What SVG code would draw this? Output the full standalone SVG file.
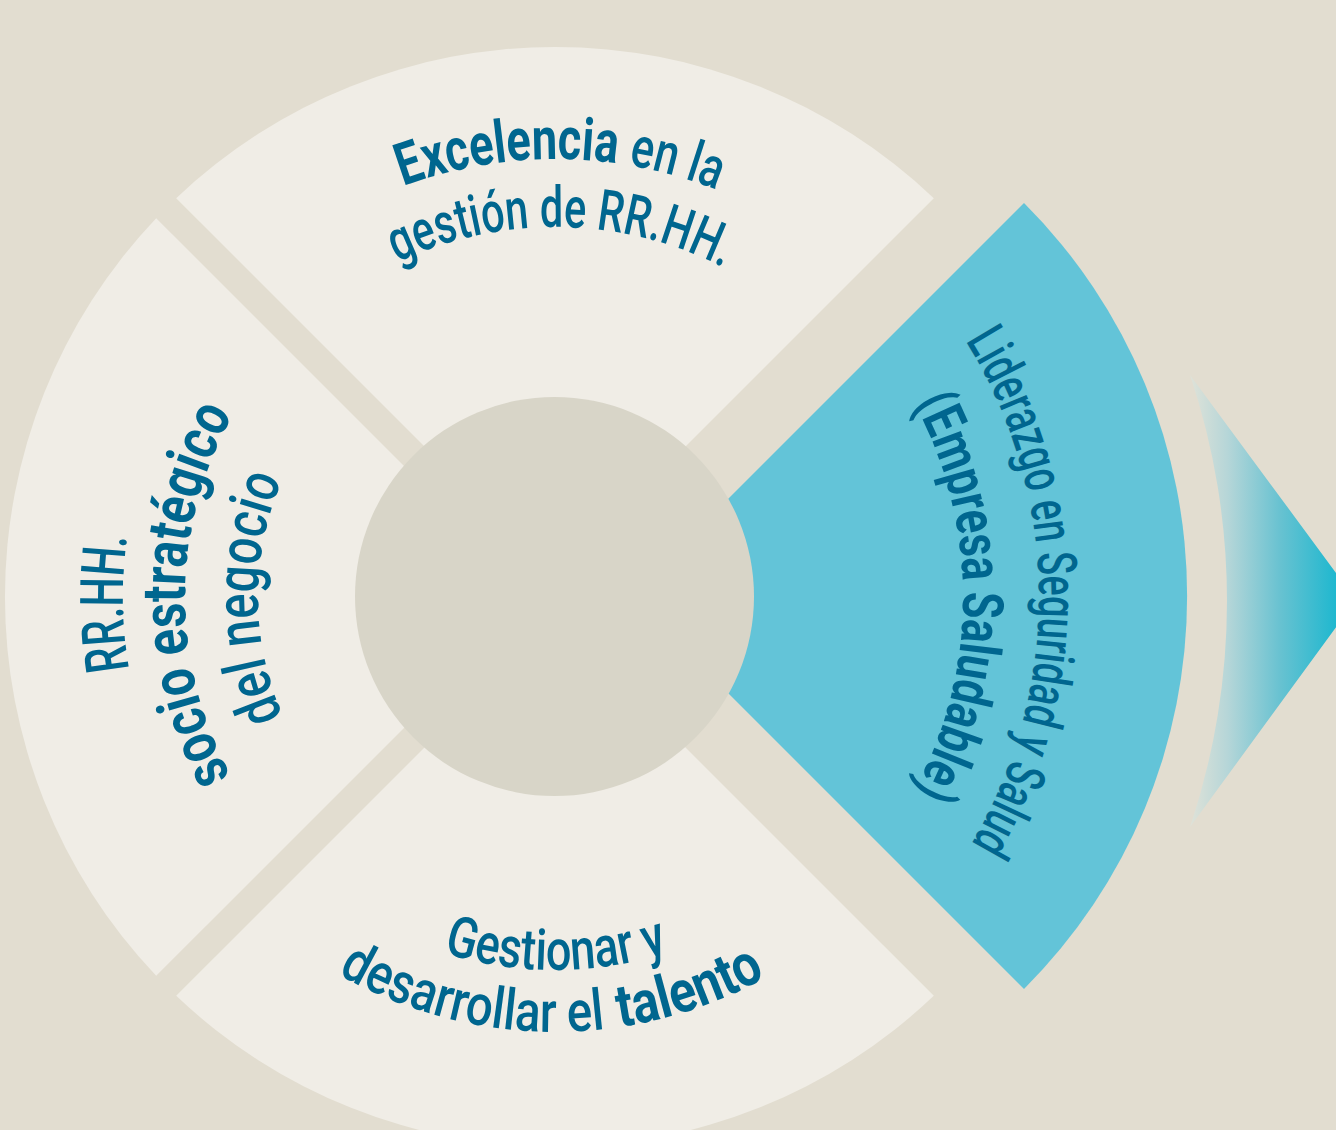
<svg xmlns="http://www.w3.org/2000/svg" xmlns:xlink="http://www.w3.org/1999/xlink" width="1336" height="1130" viewBox="0 0 1336 1130">
<style>
.seg{fill:#f0ede6}
.t{fill:#00668f;font-family:Roboto,"Liberation Sans",sans-serif;font-size:57px}
.b{font-weight:700}
.r{font-weight:500}
</style>
<defs>
<linearGradient id="arrowGrad" gradientUnits="userSpaceOnUse" x1="1190" y1="0" x2="1340" y2="0">
<stop offset="0" stop-color="#dfe2d8"/>
<stop offset="0.25" stop-color="#b6d6d8"/>
<stop offset="0.6" stop-color="#68c2d1"/>
<stop offset="1" stop-color="#1ab7cf"/>
</linearGradient>
<path id="pTop1" d="M 117 597 A 438 438 0 0 1 993 597"/>
<path id="pTop2" d="M 185 597 A 370 370 0 0 1 925 597"/>
<path id="pLeft1" d="M 555 1029 A 432 432 0 0 1 555 165"/>
<path id="pLeft2" d="M 555 967 A 370 370 0 0 1 555 227"/>
<path id="pLeft3" d="M 555 894 A 297 297 0 0 1 555 300"/>
<path id="pRight1" d="M 555 113 A 484 484 0 0 1 555 1081"/>
<path id="pRight2" d="M 555 189 A 408 408 0 0 1 555 1005"/>
<path id="pBot1" d="M 182 597 A 373 373 0 0 0 928 597"/>
<path id="pBot2" d="M 120 597 A 435 435 0 0 0 990 597"/>
</defs>
<rect width="1336" height="1130" fill="#e2ddd0"/>

<g id="arrow">
<path d="M 1190 375 L 1356 600 L 1190 827 A 709 709 0 0 0 1190 375 Z" fill="url(#arrowGrad)"/>
</g>

<g id="segment-top">
<path class="seg" d="M 555 577 L 176.2 198.2 A 550 550 0 0 1 933.8 198.2 Z"/>
</g>
<g id="segment-left">
<path class="seg" d="M 535 597 L 156.2 975.8 A 550 550 0 0 1 156.2 218.2 Z"/>
</g>
<g id="segment-bottom">
<path class="seg" d="M 555 617 L 176.2 995.8 A 550 550 0 0 0 933.8 995.8 Z"/>
</g>
<g id="segment-right">
<path d="M 631 596 L 1024 203 A 555 555 0 0 1 1024 989 Z" fill="#63c4d8"/>
</g>
<g id="center">
<circle cx="554.5" cy="596.5" r="199.5" fill="#d8d5c8"/>
</g>

<g id="label-top">
<text class="t b" style="font-size:59px"><textPath href="#pTop1" startOffset="532.8"><tspan textLength="217" lengthAdjust="spacingAndGlyphs">Excelencia</tspan></textPath></text>
<text class="t r"><textPath href="#pTop1" startOffset="761.4"><tspan textLength="92" lengthAdjust="spacingAndGlyphs">en la</tspan></textPath></text>
<text class="t r"><textPath href="#pTop2" startOffset="417.8"><tspan textLength="338" lengthAdjust="spacingAndGlyphs">gestión de RR.HH.</tspan></textPath></text>
</g>

<g id="label-left">
<text class="t r" style="font-size:60px"><textPath href="#pLeft1" startOffset="605.4"><tspan textLength="133.5" lengthAdjust="spacingAndGlyphs">RR.HH.</tspan></textPath></text>
<text class="t b" style="font-size:61px"><textPath href="#pLeft2" startOffset="393.9"><tspan textLength="378" lengthAdjust="spacingAndGlyphs">socio estratégico</tspan></textPath></text>
<text class="t r" style="font-size:60px"><textPath href="#pLeft3" startOffset="343.2"><tspan textLength="243.6" lengthAdjust="spacingAndGlyphs">del negocio</tspan></textPath></text>
</g>

<g id="label-right">
<text class="t r" style="font-size:55px"><textPath href="#pRight1" startOffset="490"><tspan textLength="529" lengthAdjust="spacingAndGlyphs">Liderazgo en Seguridad y Salud</tspan></textPath></text>
<text class="t b" style="font-size:57px"><textPath href="#pRight2" startOffset="439.4"><tspan textLength="403" lengthAdjust="spacingAndGlyphs">(Empresa Saludable)</tspan></textPath></text>
</g>

<g id="label-bottom">
<text class="t r"><textPath href="#pBot1" startOffset="472"><tspan textLength="229" lengthAdjust="spacingAndGlyphs">Gestionar y</tspan></textPath></text>
<text class="t r"><textPath href="#pBot2" startOffset="455.5"><tspan textLength="278" lengthAdjust="spacingAndGlyphs">desarrollar el</tspan></textPath></text>
<text class="t b" style="font-size:59px"><textPath href="#pBot2" startOffset="747.8"><tspan textLength="155.6" lengthAdjust="spacingAndGlyphs">talento</tspan></textPath></text>
</g>
</svg>
